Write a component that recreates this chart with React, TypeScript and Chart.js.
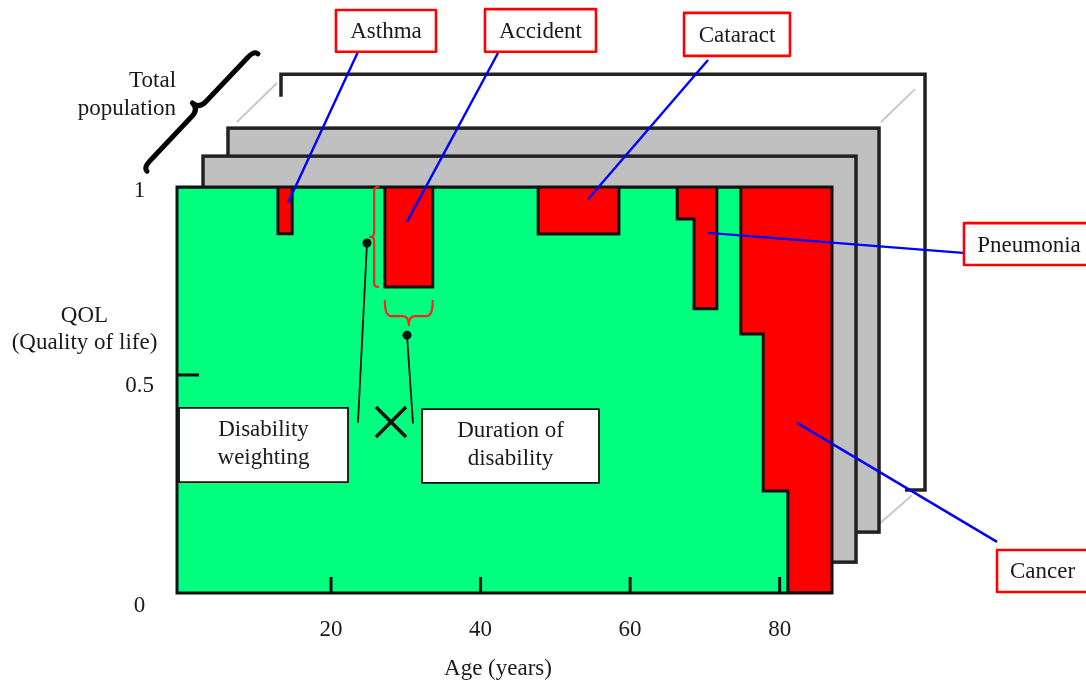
import { useEffect, useRef } from "react";
import { Chart, registerables } from "chart.js";

Chart.register(...registerables);

// ---------------- data (age in years, QOL 0..1) ----------------
// Quality of life of the population as a stepped function of age
const STEP_AGES = [-0.6, 12.9, 14.8, 27.2, 33.6, 47.7, 58.5, 66.3, 68.55, 71.6, 74.8, 77.8, 81.1, 87];
const STEP_QOL = [1, 0.885, 1, 0.754, 1, 0.884, 1, 0.921, 0.7, 1, 0.638, 0.251, 0, 0];
const AGE_RANGE = [-0.6, 87];
const QOL_RANGE = [0, 1];
const X_TICKS = [20, 40, 60, 80];
const Y_TICK_LABELS = ["1", "0.5", "0"];
const Y_TICK_LABEL_AT = [0.975, 0.495, -0.047];
const Y_TICK_MARKS = [0.537];
const DISEASES = ["Asthma", "Accident", "Cataract", "Pneumonia", "Cancer"];
const NOTES = [["Disability", "weighting"], ["Duration of", "disability"]];
const POP_TEXT = ["Total", "population"];
const QOL_TITLE = ["QOL", "(Quality of life)"];
const X_TITLE = "Age (years)";

// ---------------- annotation layout (in age / QOL units) ----------------
const PANEL_BACK = [13.31, 1.278, 99.44, 0.254];
const PANEL_BACK_STUB = [1.222, 96.76];
const PERSPECTIVE = [
  [7.42, 1.16, 12.77, 1.256],
  [93.55, 1.16, 98.1, 1.241],
  [93.42, 0.172, 97.7, 0.241],
];
const PANELS_GREY = [
  [6.22, 1.145, 93.29, 0.15],
  [2.88, 1.076, 90.21, 0.076],
];
const LABEL_BOXES = [
  [20.66, 1.436, 34.04, 1.333],
  [40.59, 1.438, 55.44, 1.333],
  [67.21, 1.429, 81.38, 1.323],
  [104.65, 0.911, 122.04, 0.808],
  [109.07, 0.106, 121.24, 0.0025],
];
const LEADERS = [
  [23.61, 1.333, 14.25, 0.961],
  [42.33, 1.33, 30.16, 0.914],
  [70.42, 1.313, 54.37, 0.97],
  [104.92, 0.837, 70.42, 0.887],
  [109.07, 0.126, 82.32, 0.419],
];
const NOTE_BOXES = [
  [-0.33, 0.456, 22.27, 0.273],
  [32.17, 0.453, 55.84, 0.271],
];
const NOTE_DOTS = [[24.81, 0.862], [30.16, 0.635]];
const NOTE_LINE_END = [[23.61, 0.421], [30.96, 0.419]];
const CROSS_AT = [28.02, 0.421];
const POP_BRACE = [10.23, 1.328, -4.61, 1.039];
const POP_TEXT_X = -0.73;
const POP_TEXT_Y = [1.246, 1.177];
const QOL_TITLE_X = -12.97;
const QOL_TITLE_Y = [0.667, 0.601];
const Y_TICK_LABEL_X = -5.6;
const X_TICK_LABEL_Y = -0.106;
const X_TITLE_AT = [42.33, -0.202];

const FONT = '23px "Liberation Serif", "Times New Roman", serif';
const INK = "#1a1a1a";
const GREEN = "#00ff7f";
const RED = "#ff0000";

function brace(ctx: CanvasRenderingContext2D, ax: number, ay: number, bx: number, by: number, h: number, d: number, r: number) {
  const L = Math.hypot(bx - ax, by - ay);
  const ux = (bx - ax) / L, uy = (by - ay) / L;
  const nx = -uy, ny = ux;
  const mx = (ax + bx) / 2, my = (ay + by) / 2;
  ctx.beginPath();
  ctx.moveTo(ax, ay);
  ctx.quadraticCurveTo(ax + nx * h, ay + ny * h, ax + nx * h + ux * r, ay + ny * h + uy * r);
  ctx.lineTo(mx - ux * r + nx * h, my - uy * r + ny * h);
  ctx.quadraticCurveTo(mx + nx * h, my + ny * h, mx + nx * d, my + ny * d);
  ctx.quadraticCurveTo(mx + nx * h, my + ny * h, mx + ux * r + nx * h, my + uy * r + ny * h);
  ctx.lineTo(bx - ux * r + nx * h, by - uy * r + ny * h);
  ctx.quadraticCurveTo(bx + nx * h, by + ny * h, bx, by);
  ctx.stroke();
}

const diagram = {
  id: "diagram",
  beforeDatasetsDraw(chart: any) {
    const ctx: CanvasRenderingContext2D = chart.ctx;
    const X = (v: number) => chart.scales.x.getPixelForValue(v);
    const Y = (v: number) => chart.scales.y.getPixelForValue(v);
    ctx.save();
    // back (white) population layer
    const [a0, b0, a1, b1] = PANEL_BACK;
    ctx.strokeStyle = "#222";
    ctx.lineWidth = 3.5;
    ctx.lineJoin = "miter";
    ctx.beginPath();
    ctx.moveTo(X(a0), Y(PANEL_BACK_STUB[0]));
    ctx.lineTo(X(a0), Y(b0));
    ctx.lineTo(X(a1), Y(b0));
    ctx.lineTo(X(a1), Y(b1));
    ctx.lineTo(X(PANEL_BACK_STUB[1]), Y(b1));
    ctx.stroke();
    // perspective lines
    ctx.strokeStyle = "#c8c8c8";
    ctx.lineWidth = 2;
    for (const [x0, y0, x1, y1] of PERSPECTIVE) {
      ctx.beginPath();
      ctx.moveTo(X(x0), Y(y0));
      ctx.lineTo(X(x1), Y(y1));
      ctx.stroke();
    }
    // grey layers
    for (const [x0, y0, x1, y1] of PANELS_GREY) {
      const l = X(x0), t = Y(y0), w = X(x1) - l, hh = Y(y1) - t;
      ctx.fillStyle = "#c0c0c0";
      ctx.fillRect(l, t, w, hh);
      ctx.strokeStyle = "#222";
      ctx.lineWidth = 3.5;
      ctx.strokeRect(l, t, w, hh);
    }
    const ca = chart.chartArea;
    ctx.fillStyle = "#fff";
    ctx.fillRect(ca.left, ca.top, ca.right - ca.left, ca.bottom - ca.top);
    ctx.restore();
  },
  afterDatasetsDraw(chart: any) {
    const ctx: CanvasRenderingContext2D = chart.ctx;
    const X = (v: number) => chart.scales.x.getPixelForValue(v);
    const Y = (v: number) => chart.scales.y.getPixelForValue(v);
    const ca = chart.chartArea;
    ctx.save();
    // plot outline
    ctx.strokeStyle = "#111";
    ctx.lineWidth = 3;
    ctx.lineJoin = "miter";
    ctx.strokeRect(ca.left, ca.top, ca.right - ca.left, ca.bottom - ca.top);
    // inside tick marks
    ctx.lineWidth = 3;
    for (const t of X_TICKS) {
      ctx.beginPath();
      ctx.moveTo(X(t), ca.bottom);
      ctx.lineTo(X(t), ca.bottom - 16);
      ctx.stroke();
    }
    for (const t of Y_TICK_MARKS) {
      ctx.beginPath();
      ctx.moveTo(ca.left, Y(t));
      ctx.lineTo(ca.left + 22, Y(t));
      ctx.stroke();
    }

    // red braces around the accident block
    const accStart = STEP_AGES[3], accEnd = STEP_AGES[4], accQ = STEP_QOL[3];
    ctx.strokeStyle = "#ff2020";
    ctx.lineWidth = 2.2;
    ctx.lineCap = "round";
    ctx.lineJoin = "round";
    brace(ctx, X(accStart - 0.9), Y(1), X(accStart - 0.9), Y(accQ), 4, 8, 4);
    brace(ctx, X(accStart), Y(accQ - 0.035), X(accEnd), Y(accQ - 0.035), 15, 24, 6);

    // black leader lines + dots to notes
    ctx.strokeStyle = "#111";
    ctx.fillStyle = "#111";
    ctx.lineWidth = 1.8;
    NOTE_DOTS.forEach(([dx, dy], i) => {
      const [ex, ey] = NOTE_LINE_END[i];
      ctx.beginPath();
      ctx.moveTo(X(dx), Y(dy));
      ctx.lineTo(X(ex), Y(ey));
      ctx.stroke();
      ctx.beginPath();
      ctx.arc(X(dx), Y(dy), 4.5, 0, Math.PI * 2);
      ctx.fill();
    });
    // multiplication cross
    ctx.lineWidth = 3.5;
    ctx.lineCap = "butt";
    const cx = X(CROSS_AT[0]), cy = Y(CROSS_AT[1]);
    ctx.beginPath();
    ctx.moveTo(cx - 15, cy - 15);
    ctx.lineTo(cx + 15, cy + 15);
    ctx.moveTo(cx + 15, cy - 15);
    ctx.lineTo(cx - 15, cy + 15);
    ctx.stroke();

    // note boxes
    ctx.font = FONT;
    ctx.textAlign = "center";
    ctx.textBaseline = "alphabetic";
    NOTE_BOXES.forEach(([x0, y0, x1, y1], i) => {
      const l = X(x0), t = Y(y0), w = X(x1) - l, hh = Y(y1) - t;
      ctx.fillStyle = "#fff";
      ctx.fillRect(l, t, w, hh);
      ctx.strokeStyle = "#111";
      ctx.lineWidth = 1.8;
      ctx.strokeRect(l, t, w, hh);
      ctx.fillStyle = INK;
      const mx = l + w / 2, my = t + hh / 2;
      ctx.fillText(NOTES[i][0], mx, my - 9.5);
      ctx.fillText(NOTES[i][1], mx, my + 18.5);
    });

    // blue leader lines
    ctx.strokeStyle = "#0000ff";
    ctx.lineWidth = 2.4;
    ctx.lineCap = "butt";
    for (const [x0, y0, x1, y1] of LEADERS) {
      ctx.beginPath();
      ctx.moveTo(X(x0), Y(y0));
      ctx.lineTo(X(x1), Y(y1));
      ctx.stroke();
    }
    // disease label boxes
    LABEL_BOXES.forEach(([x0, y0, x1, y1], i) => {
      const l = X(x0), t = Y(y0), w = X(x1) - l, hh = Y(y1) - t;
      ctx.fillStyle = "#fff";
      ctx.fillRect(l, t, w, hh);
      ctx.strokeStyle = RED;
      ctx.lineWidth = 2.6;
      ctx.strokeRect(l, t, w, hh);
      ctx.fillStyle = INK;
      ctx.fillText(DISEASES[i], l + w / 2, t + hh / 2 + 7.5);
    });

    // population brace and text
    ctx.strokeStyle = "#000";
    ctx.lineWidth = 5;
    ctx.lineCap = "round";
    ctx.lineJoin = "round";
    brace(ctx, X(POP_BRACE[0]), Y(POP_BRACE[1]), X(POP_BRACE[2]), Y(POP_BRACE[3]), 5, 14, 10);
    ctx.fillStyle = INK;
    ctx.textAlign = "right";
    POP_TEXT.forEach((s, i) => ctx.fillText(s, X(POP_TEXT_X), Y(POP_TEXT_Y[i])));

    // axis texts
    ctx.textAlign = "center";
    QOL_TITLE.forEach((s, i) => ctx.fillText(s, X(QOL_TITLE_X), Y(QOL_TITLE_Y[i])));
    Y_TICK_LABELS.forEach((s, i) => ctx.fillText(s, X(Y_TICK_LABEL_X), Y(Y_TICK_LABEL_AT[i])));
    X_TICKS.forEach((t) => ctx.fillText(String(t), X(t), Y(X_TICK_LABEL_Y)));
    ctx.fillText(X_TITLE, X(X_TITLE_AT[0]), Y(X_TITLE_AT[1]));
    ctx.restore();
  },
};

export default function App() {
  const ref = useRef<HTMLCanvasElement>(null);
  useEffect(() => {
    const canvas = ref.current!;
    const points = STEP_AGES.map((a, i) => ({ x: a, y: STEP_QOL[i] }));
    const chart = new Chart(canvas, {
      type: "line",
      data: {
        datasets: [
          {
            label: "Healthy life",
            data: points,
            stepped: "before",
            fill: "start",
            backgroundColor: GREEN,
            borderColor: "#111",
            borderWidth: 3,
            borderJoinStyle: "miter",
            pointRadius: 0,
          },
          {
            label: "Disability",
            data: points,
            stepped: "before",
            fill: "end",
            backgroundColor: RED,
            borderWidth: 0,
            pointRadius: 0,
          },
        ],
      },
      options: {
        responsive: false,
        animation: false,
        events: [],
        layout: { padding: { left: 177, top: 187, right: 254, bottom: 89 } },
        scales: {
          x: { type: "linear", min: AGE_RANGE[0], max: AGE_RANGE[1], display: false },
          y: { type: "linear", min: QOL_RANGE[0], max: QOL_RANGE[1], display: false },
        },
        plugins: { legend: { display: false }, tooltip: { enabled: false } },
      },
      plugins: [diagram],
    } as any);
    return () => chart.destroy();
  }, []);
  return (
    <canvas
      ref={ref}
      width={1086}
      height={682}
      style={{ position: "absolute", left: 0, top: 0, display: "block" }}
    />
  );
}
